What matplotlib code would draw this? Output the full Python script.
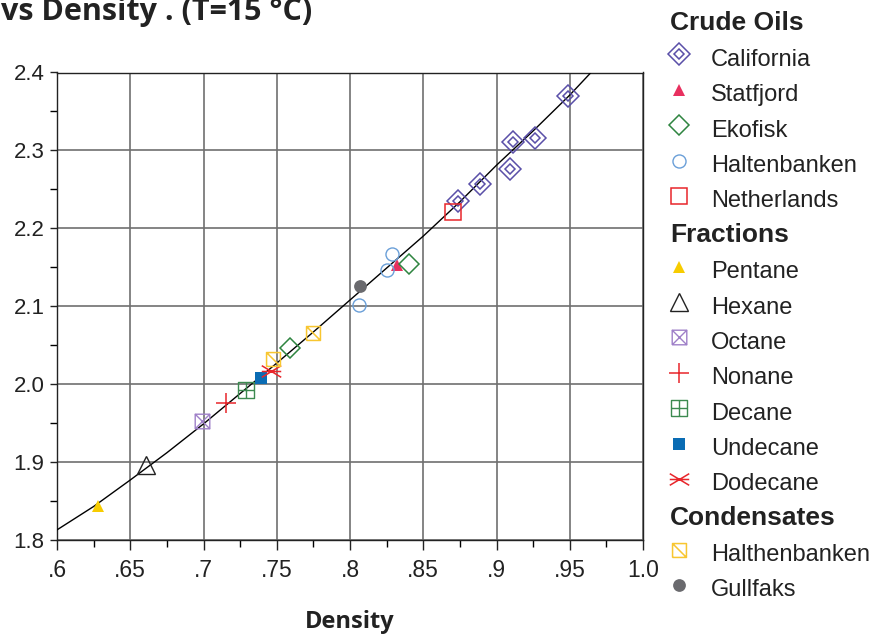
"""
Dielectric constant vs density (T=15 °C) for crude oils, fractions and condensates.
"""
import matplotlib
matplotlib.use("Agg")
import matplotlib.pyplot as plt
from matplotlib.path import Path

# ── data ──────────────────────────────────────────────────────────────────────
curve_density = [0.600, 0.625, 0.650, 0.675, 0.700, 0.725, 0.750, 0.775,
                 0.800, 0.825, 0.850, 0.875, 0.900, 0.925, 0.950, 0.964]
curve_eps = [1.813, 1.843, 1.877, 1.912, 1.949, 1.988, 2.027, 2.067,
             2.108, 2.149, 2.190, 2.234, 2.281, 2.325, 2.371, 2.399]

california_density = [0.874, 0.889, 0.9095, 0.911, 0.926, 0.949]
california_eps = [2.235, 2.257, 2.276, 2.311, 2.316, 2.370]
statfjord_density = [0.832]
statfjord_eps = [2.153]
ekofisk_density = [0.759, 0.840]
ekofisk_eps = [2.046, 2.154]
haltenbanken_density = [0.806, 0.825, 0.829]
haltenbanken_eps = [2.101, 2.147, 2.167]
netherlands_density = [0.870]
netherlands_eps = [2.221]

pentane_density = [0.628]
pentane_eps = [1.844]
hexane_density = [0.6605]
hexane_eps = [1.896]
octane_density = [0.699]
octane_eps = [1.953]
nonane_density = [0.7153]
nonane_eps = [1.976]
decane_density = [0.7288]
decane_eps = [1.992]
undecane_density = [0.739]
undecane_eps = [2.008]
dodecane_density = [0.7458]
dodecane_eps = [2.017]

halthenbanken_density = [0.7476, 0.775]
halthenbanken_eps = [2.032, 2.066]
gullfaks_density = [0.8066]
gullfaks_eps = [2.126]

x_ticks = [0.60, 0.65, 0.70, 0.75, 0.80, 0.85, 0.90, 0.95, 1.00]
x_ticklabels = [".6", ".65", ".7", ".75", ".8", ".85", ".9", ".95", "1.0"]
y_ticks = [1.8, 1.9, 2.0, 2.1, 2.2, 2.3, 2.4]
y_ticklabels = ["1.8", "1.9", "2.0", "2.1", "2.2", "2.3", "2.4"]

# ── marker shapes ────────────────────────────────────────────────────────────
M, L = Path.MOVETO, Path.LINETO
_box = [(-1, -1), (1, -1), (1, 1), (-1, 1), (-1, -1)]
_box_codes = [M, L, L, L, L]
box_x = Path(_box + [(-1, -1), (1, 1), (-1, 1), (1, -1)], _box_codes + [M, L, M, L])
box_plus = Path(_box + [(0, -1), (0, 1), (-1, 0), (1, 0)], _box_codes + [M, L, M, L])
box_slash = Path(_box + [(-1, 1), (1, -1)], _box_codes + [M, L])
star6 = Path([(-1, 0), (1, 0), (-1, -0.6), (1, 0.6), (-1, 0.6), (1, -0.6)],
             [M, L, M, L, M, L])

PURPLE = "#5a4fa8"
# name, x, y, list of marker styles (California is drawn twice: outer + inner)
series = [
    ("California", california_density, california_eps,
     [dict(marker="D", ms=10.8, mfc="none", mec=PURPLE, mew=1.1),
      dict(marker="D", ms=5.2, mfc="none", mec=PURPLE, mew=1.1)]),
    ("Statfjord", statfjord_density, statfjord_eps,
     [dict(marker="^", ms=9.2, mfc="#e8305f", mec="#e8305f", mew=0)]),
    ("Ekofisk", ekofisk_density, ekofisk_eps,
     [dict(marker="D", ms=10.6, mfc="none", mec="#2e8540", mew=1.1)]),
    ("Haltenbanken", haltenbanken_density, haltenbanken_eps,
     [dict(marker="o", ms=9.4, mfc="none", mec="#6a9fd8", mew=1.0)]),
    ("Netherlands", netherlands_density, netherlands_eps,
     [dict(marker="s", ms=11.2, mfc="none", mec="#e8262b", mew=1.1)]),
    ("Pentane", pentane_density, pentane_eps,
     [dict(marker="^", ms=8.7, mfc="#f7cc00", mec="#f7cc00", mew=0)]),
    ("Hexane", hexane_density, hexane_eps,
     [dict(marker="^", ms=12.5, mfc="none", mec="#222222", mew=1.0)]),
    ("Octane", octane_density, octane_eps,
     [dict(marker=box_x, ms=10.5, mfc="none", mec="#9f80c8", mew=1.0)]),
    ("Nonane", nonane_density, nonane_eps,
     [dict(marker="+", ms=14, mfc="none", mec="#e8262b", mew=1.1)]),
    ("Decane", decane_density, decane_eps,
     [dict(marker=box_plus, ms=11.5, mfc="none", mec="#3c8a50", mew=1.0)]),
    ("Undecane", undecane_density, undecane_eps,
     [dict(marker="s", ms=8.7, mfc="#0a6cb4", mec="#0a6cb4", mew=0)]),
    ("Dodecane", dodecane_density, dodecane_eps,
     [dict(marker=star6, ms=14, mfc="none", mec="#e8262b", mew=1.1)]),
    ("Halthenbanken", halthenbanken_density, halthenbanken_eps,
     [dict(marker=box_slash, ms=10, mfc="none", mec="#f8c630", mew=1.1)]),
    ("Gullfaks", gullfaks_density, gullfaks_eps,
     [dict(marker="o", ms=9.2, mfc="#6a6a6e", mec="#6a6a6e", mew=0)]),
]
groups = [("Crude Oils", series[0:5]), ("Fractions", series[5:12]),
          ("Condensates", series[12:14])]

# ── figure ───────────────────────────────────────────────────────────────────
W, H = 878, 635
fig = plt.figure(figsize=(W / 100, H / 100), dpi=100)
ax = fig.add_axes([57 / W, 1 - 540 / H, (643 - 57) / W, (540 - 72.5) / H])

ax.plot(curve_density, curve_eps, color="black", lw=1.0, zorder=3)
for name, xs, ys, styles in series:
    for st in styles:
        ax.plot(xs, ys, ls="none", zorder=4, **st)

ax.set_xlim(0.6, 1.0)
ax.set_ylim(1.8, 2.4)
ax.set_xticks(x_ticks)
ax.set_xticklabels(x_ticklabels, family="Liberation Sans", fontsize=16.5)
ax.set_yticks(y_ticks)
ax.set_yticklabels(y_ticklabels, family="Liberation Sans", fontsize=16)
ax.set_xticks([t + 0.025 for t in x_ticks[:-1]], minor=True)
ax.set_yticks([t + 0.05 for t in y_ticks[:-1]], minor=True)
ax.tick_params(axis="x", which="major", length=7, width=1, pad=7, colors="#222222")
ax.tick_params(axis="x", which="minor", length=5, width=1)
ax.tick_params(axis="y", which="major", length=5, width=1, pad=4, colors="#222222")
ax.tick_params(axis="y", which="minor", length=5, width=1)
ax.grid(True, which="major", color="#707070", lw=1.2)
for sp in ax.spines.values():
    sp.set_color("#222222")
    sp.set_linewidth(1.0)

ax.set_xlabel("Density", family="Open Sans", fontweight="bold", fontsize=17,
              labelpad=20, color="#222222")
# the title is partly cut off at the top edge in the reference
fig.text(1 / W, 1 - 20 / H, "vs Density . (T=15 °C)", family="Open Sans",
         fontweight="bold", fontsize=22, color="#222222", va="baseline", ha="left")

# ── legend (hand placed, pixel coordinates) ──────────────────────────────────
lax = fig.add_axes([0, 0, 1, 1])
lax.set_xlim(0, W)
lax.set_ylim(H, 0)
lax.axis("off")
row_h = 35.375
row = 0
for title, items in groups:
    yc = 22 + row * row_h
    lax.text(670, yc + 7.5, title, family="Liberation Sans", fontweight="bold",
             fontsize=19, color="#222222", va="baseline", ha="left")
    row += 1
    for name, xs, ys, styles in items:
        yc = 22 + row * row_h
        for st in styles:
            lax.plot([679], [yc - 3], ls="none", **st)
        lax.text(711, yc + 8.5, name, family="Liberation Sans", fontsize=17,
                 color="#222222", va="baseline", ha="left")
        row += 1

fig.savefig("out.png", dpi=100)
